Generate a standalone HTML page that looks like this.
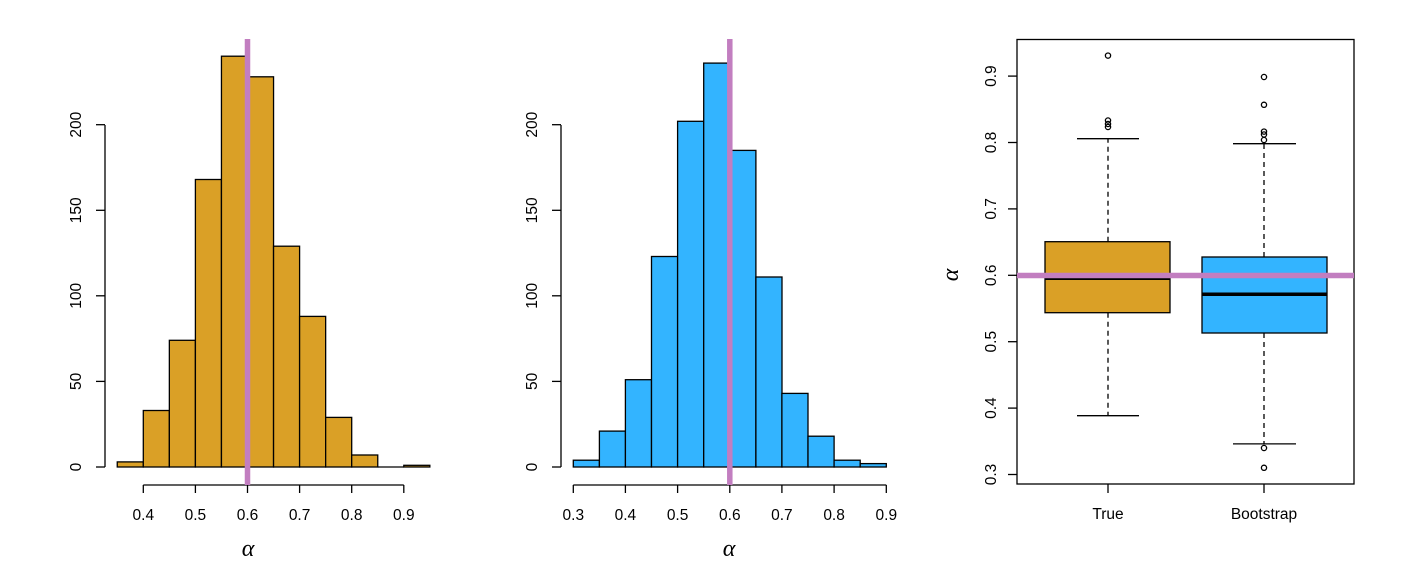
<!DOCTYPE html>
<html><head><meta charset="utf-8"><style>html,body{margin:0;padding:0;background:#fff}svg{display:block}</style></head><body>
<svg width="1408" height="585" viewBox="0 0 1408 585" xmlns="http://www.w3.org/2000/svg" font-family="Liberation Sans, sans-serif" font-size="15.5">
<g stroke="#000" stroke-width="1.3" fill="#DAA026">
<rect x="117.25" y="461.9" width="26.05" height="5.1"/>
<rect x="143.3" y="410.5" width="26.05" height="56.5"/>
<rect x="169.35" y="340.3" width="26.05" height="126.7"/>
<rect x="195.4" y="179.5" width="26.05" height="287.5"/>
<rect x="221.45" y="56.2" width="26.05" height="410.8"/>
<rect x="247.5" y="76.8" width="26.05" height="390.2"/>
<rect x="273.55" y="246.2" width="26.05" height="220.8"/>
<rect x="299.6" y="316.4" width="26.05" height="150.6"/>
<rect x="325.65" y="417.4" width="26.05" height="49.6"/>
<rect x="351.7" y="455" width="26.05" height="12"/>
<line x1="377.75" y1="467" x2="403.8" y2="467"/>
<rect x="403.8" y="465.3" width="26.05" height="1.7"/>
</g>
<g stroke="#000" stroke-width="1.3" fill="none">
<line x1="105" y1="467" x2="105" y2="125"/>
<line x1="96" y1="467" x2="105" y2="467"/><line x1="96" y1="381.4" x2="105" y2="381.4"/><line x1="96" y1="295.8" x2="105" y2="295.8"/><line x1="96" y1="210.3" x2="105" y2="210.3"/><line x1="96" y1="124.7" x2="105" y2="124.7"/>
<line x1="143.3" y1="485" x2="403.8" y2="485"/>
<line x1="143.3" y1="485" x2="143.3" y2="493"/><line x1="195.4" y1="485" x2="195.4" y2="493"/><line x1="247.5" y1="485" x2="247.5" y2="493"/><line x1="299.6" y1="485" x2="299.6" y2="493"/><line x1="351.7" y1="485" x2="351.7" y2="493"/><line x1="403.8" y1="485" x2="403.8" y2="493"/>
</g>
<g text-anchor="middle">
<text x="143.3" y="520">0.4</text><text x="195.4" y="520">0.5</text><text x="247.5" y="520">0.6</text><text x="299.6" y="520">0.7</text><text x="351.7" y="520">0.8</text><text x="403.8" y="520">0.9</text>
<text transform="translate(81,467) rotate(-90)">0</text><text transform="translate(81,381.4) rotate(-90)">50</text><text transform="translate(81,295.8) rotate(-90)">100</text><text transform="translate(81,210.3) rotate(-90)">150</text><text transform="translate(81,124.7) rotate(-90)">200</text>
<text x="248" y="556" font-family="Liberation Serif, serif" font-style="italic" font-size="24">α</text>
</g>
<line x1="247.5" y1="39" x2="247.5" y2="485" stroke="#C27EC0" stroke-width="5.5"/>

<g stroke="#000" stroke-width="1.3" fill="#33B4FF">
<rect x="573.3" y="460.2" width="26.1" height="6.8"/>
<rect x="599.4" y="431.1" width="26.1" height="35.9"/>
<rect x="625.4" y="379.7" width="26.1" height="87.3"/>
<rect x="651.5" y="256.5" width="26.1" height="210.5"/>
<rect x="677.6" y="121.3" width="26.1" height="345.7"/>
<rect x="703.7" y="63.1" width="26.1" height="403.9"/>
<rect x="729.8" y="150.4" width="26.1" height="316.6"/>
<rect x="755.9" y="277" width="26.1" height="190"/>
<rect x="781.9" y="393.4" width="26.1" height="73.6"/>
<rect x="808" y="436.2" width="26.1" height="30.8"/>
<rect x="834.1" y="460.2" width="26.1" height="6.8"/>
<rect x="860.2" y="463.6" width="26.1" height="3.4"/>
</g>
<g stroke="#000" stroke-width="1.3" fill="none">
<line x1="561" y1="467" x2="561" y2="125"/>
<line x1="552" y1="467" x2="561" y2="467"/><line x1="552" y1="381.4" x2="561" y2="381.4"/><line x1="552" y1="295.8" x2="561" y2="295.8"/><line x1="552" y1="210.3" x2="561" y2="210.3"/><line x1="552" y1="124.7" x2="561" y2="124.7"/>
<line x1="573.3" y1="485" x2="886.3" y2="485"/>
<line x1="573.3" y1="485" x2="573.3" y2="493"/><line x1="625.4" y1="485" x2="625.4" y2="493"/><line x1="677.6" y1="485" x2="677.6" y2="493"/><line x1="729.8" y1="485" x2="729.8" y2="493"/><line x1="781.9" y1="485" x2="781.9" y2="493"/><line x1="834.1" y1="485" x2="834.1" y2="493"/><line x1="886.3" y1="485" x2="886.3" y2="493"/>
</g>
<g text-anchor="middle">
<text x="573.3" y="520">0.3</text><text x="625.4" y="520">0.4</text><text x="677.6" y="520">0.5</text><text x="729.8" y="520">0.6</text><text x="781.9" y="520">0.7</text><text x="834.1" y="520">0.8</text><text x="886.3" y="520">0.9</text>
<text transform="translate(537,467) rotate(-90)">0</text><text transform="translate(537,381.4) rotate(-90)">50</text><text transform="translate(537,295.8) rotate(-90)">100</text><text transform="translate(537,210.3) rotate(-90)">150</text><text transform="translate(537,124.7) rotate(-90)">200</text>
<text x="729" y="556" font-family="Liberation Serif, serif" font-style="italic" font-size="24">α</text>
</g>
<line x1="729.8" y1="39" x2="729.8" y2="485" stroke="#C27EC0" stroke-width="5.5"/>

<g stroke="#000" stroke-width="1.3" fill="none">
<rect x="1017" y="39.5" width="337" height="444.5"/>
<line x1="1008" y1="474.5" x2="1017" y2="474.5"/><line x1="1008" y1="408.1" x2="1017" y2="408.1"/><line x1="1008" y1="341.7" x2="1017" y2="341.7"/><line x1="1008" y1="275.3" x2="1017" y2="275.3"/><line x1="1008" y1="208.9" x2="1017" y2="208.9"/><line x1="1008" y1="142.5" x2="1017" y2="142.5"/><line x1="1008" y1="76.1" x2="1017" y2="76.1"/>
<line x1="1108" y1="484" x2="1108" y2="493"/><line x1="1264" y1="484" x2="1264" y2="493"/>
<g stroke-dasharray="5,4">
<line x1="1108" y1="241.7" x2="1108" y2="138.7"/><line x1="1108" y1="312.7" x2="1108" y2="415.7"/>
<line x1="1264" y1="257" x2="1264" y2="143.7"/><line x1="1264" y1="333" x2="1264" y2="443.9"/>
</g>
<line x1="1077" y1="138.7" x2="1139" y2="138.7"/><line x1="1077" y1="415.7" x2="1139" y2="415.7"/>
<line x1="1233" y1="143.7" x2="1296" y2="143.7"/><line x1="1233" y1="443.9" x2="1296" y2="443.9"/>
<rect x="1045" y="241.7" width="125" height="71" fill="#DAA026"/>
<rect x="1202" y="257" width="125" height="76" fill="#33B4FF"/>
<line x1="1045" y1="279" x2="1170" y2="279" stroke-width="2"/>
<line x1="1202" y1="294.3" x2="1327" y2="294.3" stroke-width="3.5"/>
<circle cx="1108" cy="55.6" r="2.6"/><circle cx="1108" cy="120.5" r="2.6"/><circle cx="1108" cy="124" r="2.6"/><circle cx="1108" cy="127" r="2.6"/>
<circle cx="1264" cy="77" r="2.6"/><circle cx="1264" cy="104.8" r="2.6"/><circle cx="1264" cy="131.6" r="2.6"/><circle cx="1264" cy="134.5" r="2.6"/><circle cx="1264" cy="140" r="2.6"/><circle cx="1264" cy="448" r="2.6"/><circle cx="1264" cy="467.8" r="2.6"/>
</g>
<line x1="1017" y1="275.5" x2="1354" y2="275.5" stroke="#C27EC0" stroke-width="5.5"/>
<g text-anchor="middle">
<text transform="translate(996,474.5) rotate(-90)">0.3</text><text transform="translate(996,408.1) rotate(-90)">0.4</text><text transform="translate(996,341.7) rotate(-90)">0.5</text><text transform="translate(996,275.3) rotate(-90)">0.6</text><text transform="translate(996,208.9) rotate(-90)">0.7</text><text transform="translate(996,142.5) rotate(-90)">0.8</text><text transform="translate(996,76.1) rotate(-90)">0.9</text>
<text x="1108" y="519">True</text><text x="1264" y="519">Bootstrap</text>
<text transform="translate(958,275) rotate(-90)" font-family="Liberation Serif, serif" font-style="italic" font-size="24">α</text>
</g>
</svg>
</body></html>
